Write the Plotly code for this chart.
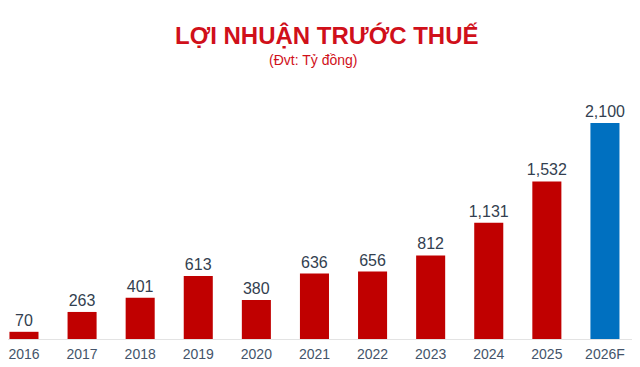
import plotly.graph_objects as go

years = ["2016", "2017", "2018", "2019", "2020", "2021", "2022", "2023", "2024", "2025", "2026F"]
profit = [70, 263, 401, 613, 380, 636, 656, 812, 1131, 1532, 2100]
colors = ["#C00000"] * 10 + ["#0070C0"]

# page body has an 8px default margin, so the figure is sized/offset accordingly
W, H = 632, 359
pl, pr, pt, pb = 0, 6, 72, 28
pw, ph = W - pl - pr, H - pt - pb

fig = go.Figure(go.Bar(
    x=years, y=profit,
    marker=dict(color=colors, line=dict(width=0)),
    text=[f"{v:,}" for v in profit],
    textposition="outside",
    constraintext="none",
    textfont=dict(family="Liberation Sans, Arial", size=16, color="#333F50"),
    cliponaxis=False,
    width=0.5,
))

fig.update_layout(
    width=W, height=H,
    margin=dict(l=pl, r=pr, t=pt, b=pb, autoexpand=False),
    paper_bgcolor="white", plot_bgcolor="white",
    showlegend=False,
    uniformtext=dict(mode=False),
    xaxis=dict(
        range=[-0.275, 10.5], showgrid=False, showline=True, linecolor="#E3E3E3", linewidth=1,
        automargin=False, ticks="", ticklabelstandoff=2,
        tickfont=dict(family="Liberation Sans, Arial", size=14, color="#44546A"),
    ),
    yaxis=dict(range=[0, 2518], visible=False, showgrid=False, automargin=False),
)

def px(x): return (x - pl) / pw
def py(y): return (H - pb - y) / ph

fig.add_annotation(text="<b>LỢI NHUẬN TRƯỚC THUẾ</b>", x=px(319), y=py(28), xref="paper", yref="paper",
                   showarrow=False, font=dict(family="Liberation Sans, Arial", size=24, color="#D0101A"),
                   xanchor="center", yanchor="middle")
fig.add_annotation(text="(Đvt: Tỷ đồng)", x=px(305), y=py(52), xref="paper", yref="paper",
                   showarrow=False, font=dict(family="Liberation Sans, Arial", size=14, color="#D0101A"),
                   xanchor="center", yanchor="middle")

fig.write_html("out.html")
